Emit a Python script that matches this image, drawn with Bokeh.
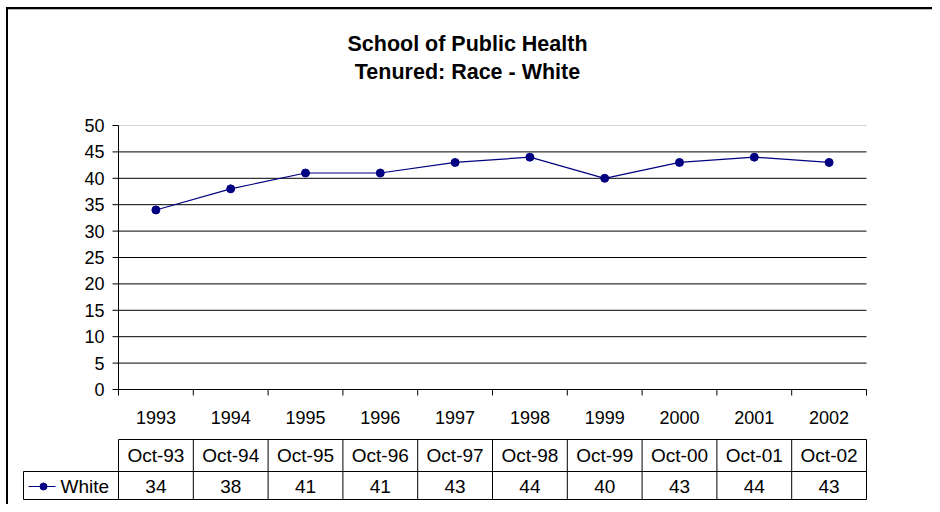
from bokeh.plotting import figure
from bokeh.models import Range1d
from bokeh.core.properties import value
from bokeh.embed import file_html
from bokeh.resources import INLINE

# ---- data ----
years = ["1993", "1994", "1995", "1996", "1997", "1998", "1999", "2000", "2001", "2002"]
dates = ["Oct-93", "Oct-94", "Oct-95", "Oct-96", "Oct-97", "Oct-98", "Oct-99", "Oct-00", "Oct-01", "Oct-02"]
white = [34, 38, 41, 41, 43, 44, 40, 43, 44, 43]
y_ticks = [0, 5, 10, 15, 20, 25, 30, 35, 40, 45, 50]
series_name = "White"
title_lines = ["School of Public Health", "Tenured: Race - White"]

# ---- layout (pixel scale of the data space) ----
PX_CAT = 74.8     # pixels per category
PX_UNIT = 5.28    # pixels per value unit
W, H = 932, 504
CX0 = 155.4       # pixel x of first category centre
Y0PX = 389        # pixel y of value 0
x0 = -CX0 / PX_CAT
x1 = (W - CX0) / PX_CAT
y1 = Y0PX / PX_UNIT
y0 = -(H - Y0PX) / PX_UNIT

def dx(px):
    return px / PX_CAT

def dy(px):
    return px / PX_UNIT

FONT = value("Liberation Sans")
NAVY = "#000080"

p = figure(width=W, height=H, x_range=Range1d(x0, x1), y_range=Range1d(y0, y1),
           x_axis_type=None, y_axis_type=None, toolbar_location=None,
           output_backend="svg", min_border=0, outline_line_color=None,
           background_fill_color="white", border_fill_color="white")

n = len(years)
xs = list(range(n))
left = -0.5
right = n - 0.5
ymax = y_ticks[-1]

# outer chart-area border (top and left; right/bottom lie outside the window)
p.segment(x0=[x0 + dx(6)], y0=[y1 - dy(7.5)], x1=[x1], y1=[y1 - dy(7.5)], line_color="black", line_width=2)
p.segment(x0=[x0 + dx(6)], y0=[y1 - dy(9)], x1=[x1], y1=[y1 - dy(9)], line_color="#bbbbbb", line_width=1)
p.segment(x0=[x0 + dx(6.5)], y0=[y0], x1=[x0 + dx(6.5)], y1=[y1 - dy(6.5)], line_color="black", line_width=2)

# title
p.text(x=[left + dx(349)] * 2, y=[dy(Y0PX - 43), dy(Y0PX - 71)], text=title_lines,
       text_font=FONT, text_font_size="21.5px", text_font_style="bold",
       text_align="center", text_baseline="middle", text_color="black")

# gridlines
grid_vals = [t for t in y_ticks if 0 < t < ymax]
p.segment(x0=[left] * len(grid_vals), y0=grid_vals, x1=[right] * len(grid_vals), y1=grid_vals,
          line_color="black", line_width=1)
p.segment(x0=[left], y0=[ymax], x1=[right], y1=[ymax], line_color="#d4d4d4", line_width=1)

# y axis
p.segment(x0=[left], y0=[0], x1=[left], y1=[ymax], line_color="black", line_width=1)
p.segment(x0=[left - dx(6)] * len(y_ticks), y0=y_ticks, x1=[left] * len(y_ticks), y1=y_ticks,
          line_color="black", line_width=1)
p.text(x=[left - dx(14)] * len(y_ticks), y=y_ticks, text=[str(t) for t in y_ticks],
       text_font=FONT, text_font_size="18px", text_align="right", text_baseline="middle",
       text_color="black")

# x axis
bounds = [i - 0.5 for i in range(n + 1)]
p.segment(x0=[left], y0=[0], x1=[right], y1=[0], line_color="black", line_width=1)
p.segment(x0=bounds, y0=[0] * len(bounds), x1=bounds, y1=[-dy(6)] * len(bounds),
          line_color="black", line_width=1)
p.text(x=xs, y=[-dy(28)] * n, text=years, text_font=FONT, text_font_size="18px",
       text_align="center", text_baseline="middle", text_color="black")

# series
p.line(xs, white, line_color=NAVY, line_width=1.2)
p.scatter(xs, white, marker="circle", size=8, fill_color=NAVY, line_color=NAVY)

# data table
t_top, t_mid, t_bot = -dy(50), -dy(82), -dy(110)
leg_left = left - dx(95)
p.segment(x0=[left, leg_left, leg_left], y0=[t_top, t_mid, t_bot],
          x1=[right, right, right], y1=[t_top, t_mid, t_bot], line_color="black", line_width=1)
p.segment(x0=bounds, y0=[t_top] * len(bounds), x1=bounds, y1=[t_bot] * len(bounds),
          line_color="black", line_width=1)
p.segment(x0=[leg_left], y0=[t_mid], x1=[leg_left], y1=[t_bot], line_color="black", line_width=1)
p.text(x=xs, y=[-dy(66)] * n, text=dates, text_font=FONT, text_font_size="19px",
       text_align="center", text_baseline="middle", text_color="black")
p.text(x=xs, y=[-dy(97)] * n, text=[str(v) for v in white], text_font=FONT,
       text_font_size="19px", text_align="center", text_baseline="middle", text_color="black")

# legend key inside the table
ly = -dy(97)
p.segment(x0=[leg_left + dx(5)], y0=[ly], x1=[leg_left + dx(32)], y1=[ly], line_color=NAVY, line_width=1.2)
p.scatter([leg_left + dx(20)], [ly], marker="circle", size=7, fill_color=NAVY, line_color=NAVY)
p.text(x=[leg_left + dx(37)], y=[ly], text=[series_name], text_font=FONT, text_font_size="19px",
       text_align="left", text_baseline="middle", text_color="black")

open("out.html", "w").write(file_html(p, INLINE))
